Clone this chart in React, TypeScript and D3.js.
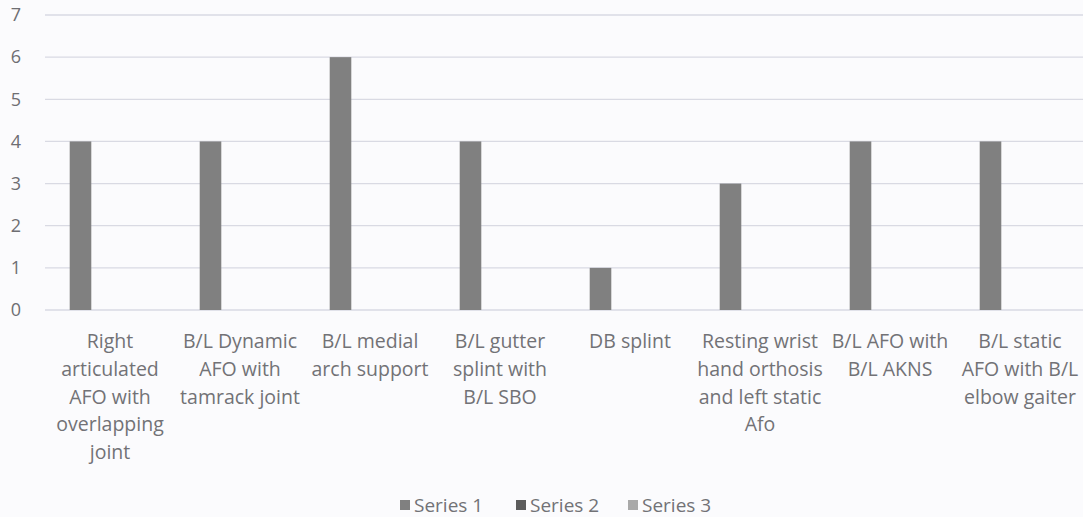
import * as d3 from 'd3';
import React, { useEffect, useRef } from 'react';

// Category labels as they wrap in the original chart
const categoryLines: string[][] = [
  ['Right', 'articulated', 'AFO with', 'overlapping', 'joint'],
  ['B/L Dynamic', 'AFO with', 'tamrack joint'],
  ['B/L medial', 'arch support'],
  ['B/L gutter', 'splint with', 'B/L SBO'],
  ['DB splint'],
  ['Resting wrist', 'hand orthosis', 'and left static', 'Afo'],
  ['B/L AFO with', 'B/L AKNS'],
  ['B/L static', 'AFO with B/L', 'elbow gaiter'],
];
const categories = categoryLines.map(l => l.join(' '));

const seriesNames = ['Series 1', 'Series 2', 'Series 3'];
const series1 = [4, 4, 6, 4, 1, 3, 4, 4];
const series2 = [0, 0, 0, 0, 0, 0, 0, 0];
const series3 = [0, 0, 0, 0, 0, 0, 0, 0];
const yTicks = [0, 1, 2, 3, 4, 5, 6, 7];

const seriesColors = ['#808080', '#5c5c5c', '#a9a9a9'];

const width = 1083;
const height = 517;
const font = '"Open Sans", sans-serif';

const App: React.FC = () => {
  const svgRef = useRef<SVGSVGElement>(null);

  useEffect(() => {
    if (!svgRef.current) return;
    const svg = d3.select(svgRef.current);
    svg.selectAll('*').remove();

    const margin = { top: 15, right: -2, bottom: 207, left: 45 };
    const innerWidth = width - margin.left - margin.right;
    const innerHeight = height - margin.top - margin.bottom;

    svg.append('rect')
      .attr('width', width)
      .attr('height', height)
      .attr('fill', '#fbfbfd');

    const g = svg.append('g')
      .attr('transform', `translate(${margin.left},${margin.top})`);

    const x = d3.scaleBand<string>()
      .domain(categories)
      .range([0, innerWidth]);

    const xSeries = d3.scaleBand<string>()
      .domain(seriesNames)
      .range([x.bandwidth() * 0.19, x.bandwidth() * 0.7]);

    const y = d3.scaleLinear()
      .domain([0, 7])
      .range([innerHeight, 0]);

    // gridlines
    g.append('g')
      .selectAll('line')
      .data(yTicks)
      .join('line')
      .attr('x1', 0)
      .attr('x2', innerWidth)
      .attr('y1', d => y(d))
      .attr('y2', d => y(d))
      .attr('stroke', '#d9dae3')
      .attr('stroke-width', 1.3);

    // y tick labels
    g.append('g')
      .selectAll('text')
      .data(yTicks)
      .join('text')
      .attr('x', -24)
      .attr('y', d => y(d))
      .attr('dy', '0.35em')
      .attr('text-anchor', 'end')
      .style('font-family', font)
      .style('font-size', '18px')
      .attr('fill', '#6e6e72')
      .text(d => d);

    const allSeries = [series1, series2, series3];
    allSeries.forEach((vals, si) => {
      g.append('g')
        .selectAll('rect')
        .data(vals)
        .join('rect')
        .attr('x', (_, i) => (x(categories[i]) ?? 0) + (xSeries(seriesNames[si]) ?? 0))
        .attr('y', d => y(d))
        .attr('width', xSeries.bandwidth() - 0.5)
        .attr('height', d => innerHeight - y(d))
        .attr('fill', seriesColors[si]);
    });

    // category labels
    const labels = g.append('g')
      .selectAll('text')
      .data(categoryLines)
      .join('text')
      .attr('text-anchor', 'middle')
      .attr('transform', (_, i) => `translate(${(x(categories[i]) ?? 0) + x.bandwidth() / 2},${innerHeight + 38})`)
      .style('font-family', font)
      .style('font-size', '19.5px')
      .attr('fill', '#727276');

    labels.selectAll('tspan')
      .data(d => d)
      .join('tspan')
      .attr('x', 0)
      .attr('y', (_, j) => j * 27.8)
      .text(d => d);

    // legend
    const legendX = [400, 516, 628];
    const legend = svg.append('g')
      .selectAll('g')
      .data(seriesNames)
      .join('g')
      .attr('transform', (_, i) => `translate(${legendX[i]},${505})`);

    legend.append('rect')
      .attr('x', 0)
      .attr('y', -5)
      .attr('width', 10)
      .attr('height', 10)
      .attr('fill', (_, i) => seriesColors[i]);

    legend.append('text')
      .attr('x', 14)
      .attr('y', 0)
      .attr('dy', '0.35em')
      .style('font-family', font)
      .style('font-size', '19px')
      .attr('fill', '#727276')
      .text(d => d);
  }, []);

  return (
    <div style={{ position: 'absolute', left: 0, top: 0 }}>
      <svg ref={svgRef} width={width} height={height} style={{ display: 'block' }} />
    </div>
  );
};

export default App;
